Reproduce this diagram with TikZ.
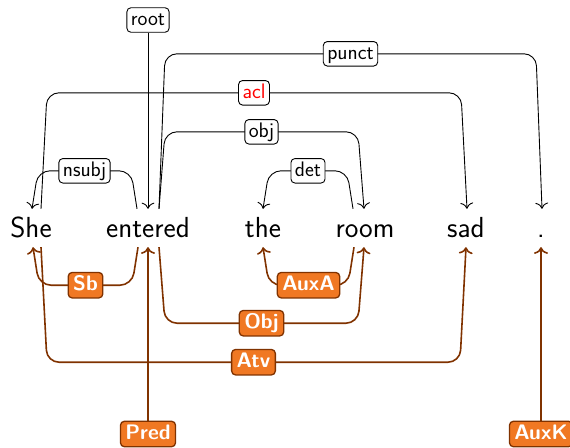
\documentclass[tikz,border=0pt]{standalone}
\usetikzlibrary{calc, arrows.meta}
\definecolor{depbrown}{RGB}{128,50,0}
\definecolor{deporange}{RGB}{240,120,35}
\begin{document}
\begin{tikzpicture}[x=1pt, y=-1pt,
    w/.style={font=\fontsize{29}{34}\sffamily, anchor=base, inner xsep=2pt, inner ysep=7pt, text height=21pt, text depth=3pt},
    lab/.style={draw, fill=white, line width=0.9pt, rounded corners=4pt, font=\fontsize{21}{25}\sffamily, inner xsep=4pt, inner ysep=3pt, text height=14.5pt, text depth=4pt},
    blab/.style={draw=depbrown, fill=deporange, text=white, rounded corners=4pt, font=\fontsize{21}{25}\sffamily\bfseries, inner xsep=5pt, inner ysep=4pt, text height=14.5pt, text depth=3pt, line width=1.3pt},
    dep/.style={-{To[scale=1.7]}, line width=0.9pt, rounded corners=12pt},
    bdep/.style={-{To[scale=1.3]}, draw=depbrown, line width=1.6pt, rounded corners=12pt}]
    \useasboundingbox (0,0) rectangle (570,447);
    % Satz
    \foreach \t/\x/\n in {She/31/She, entered/148/entered, the/263/the, room/365/room, sad/466/sad, {.}/541/dot}
        {\node[w] (\n) at (\x,237) {\t};}
    % oben: Stanford-Kanten
    \node[lab] (root) at (148,20) {root};
    \draw[dep] (root) -- (entered.north);
    \foreach \a/\ax/\b/\bx/\s/\h/\l/\c in {entered/-11/She/1/-6/38/nsubj/black,
            room/-12/the/0/-6/38/det/black, entered/11/room/-1/6/77/obj/black,
            She/10/sad/1/6/116/acl/red, entered/11/dot/1/6/155/punct/black}
        {\draw[dep] ($(\a.north)+(\ax,0)$) -- ++(\s,-\h)
            -- node[lab, text=\c] {\l} ($(\b.north)+({\bx-(\s)},-\h)$) -- ($(\b.north)+(\bx,0)$);}
    % unten: PDT-Kanten
    \node[blab] (pred) at (148,434) {Pred};
    \node[blab] (auxk) at (541,434) {AuxK};
    \draw[bdep] (pred) -- (entered.south);
    \draw[bdep] (auxk) -- (dot.south);
    \foreach \a/\ax/\b/\bx/\s/\h/\l in {entered/-10/She/2/-6/38/Sb,
            room/-11/the/0/-6/38/AuxA, entered/11/room/-1/6/76/Obj,
            She/10/sad/0/6/115/Atv}
        {\draw[bdep] ($(\a.south)+(\ax,0)$) -- ++(\s,\h)
            -- node[blab] {\l} ($(\b.south)+({\bx-(\s)},\h)$) -- ($(\b.south)+(\bx,0)$);}
\end{tikzpicture}
\end{document}
